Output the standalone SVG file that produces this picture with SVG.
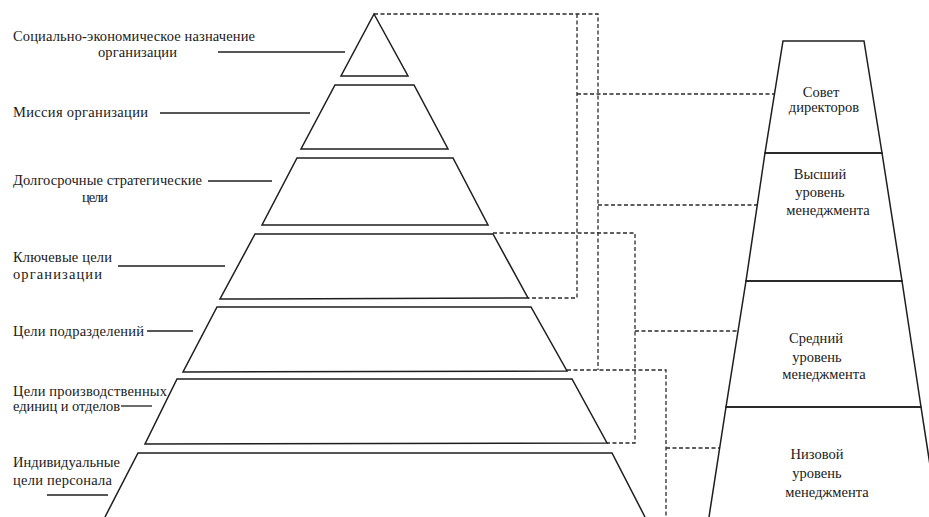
<svg xmlns="http://www.w3.org/2000/svg" width="929" height="517" viewBox="0 0 929 517">
<style>
.bg{fill:#fff}
.shape{fill:none;stroke:#1e1e1e;stroke-width:1.5;stroke-linejoin:miter}
.lead{fill:none;stroke:#1e1e1e;stroke-width:1.3}
.dash{fill:none;stroke:#2a2a2a;stroke-width:1.3;stroke-dasharray:4 2.5}
text{font-family:"Liberation Serif","Times New Roman",serif;font-size:14.5px;fill:#1a1a1a}
.c{text-anchor:middle}
</style>
<rect class="bg" width="929" height="517"/>
<g id="connectors">
<path class="dash" d="M374,14 H598 V370 M567,370 H666 V517"/>
<path class="dash" d="M577,14 V298 H528"/>
<path class="dash" d="M577,94 H775"/>
<path class="dash" d="M598,205 H757"/>
<path class="dash" d="M493,233 H635 V443 H607"/>
<path class="dash" d="M635,331 H738"/>
<path class="dash" d="M666,448 H720"/>
</g>
<g id="level1">
<polygon class="shape" points="374,14 408,76 341,76"/>
<line class="lead" x1="218" y1="52" x2="345" y2="52"/>
<text x="13" y="41" textLength="242">Социально-экономическое назначение</text>
<text x="98" y="57" textLength="79">организации</text>
</g>
<g id="level2">
<polygon class="shape" points="335,85 414,85 448,149 301,149"/>
<line class="lead" x1="160" y1="113" x2="310" y2="113"/>
<text x="13" y="117" textLength="135">Миссия  организации</text>
</g>
<g id="level3">
<polygon class="shape" points="297,158 453,158 488,225 262,225"/>
<line class="lead" x1="208" y1="181" x2="272" y2="181"/>
<text x="13" y="185" textLength="189">Долгосрочные стратегические</text>
<text x="82" y="202" textLength="26">цели</text>
</g>
<g id="level4">
<polygon class="shape" points="255,234 493,234 528,298 220,299"/>
<line class="lead" x1="118" y1="266" x2="225" y2="266"/>
<text x="13" y="262" textLength="99">Ключевые цели</text>
<text x="13" y="279" textLength="89">организации</text>
</g>
<g id="level5">
<polygon class="shape" points="217,307 531,307 567,371 183,372"/>
<line class="lead" x1="147" y1="331" x2="193" y2="331"/>
<text x="13" y="336" textLength="131">Цели подразделений</text>
</g>
<g id="level6">
<polygon class="shape" points="177,379 572,379 607,443 145,444"/>
<line class="lead" x1="121" y1="406" x2="152" y2="406"/>
<text x="13" y="396" textLength="154">Цели производственных</text>
<text x="13" y="411" textLength="107">единиц и отделов</text>
</g>
<g id="level7">
<polyline class="shape" points="105,517 138,453 612,453 645,517"/>
<line class="lead" x1="47" y1="495" x2="108" y2="495"/>
<text x="13" y="467" textLength="107">Индивидуальные</text>
<text x="13" y="485" textLength="99">цели  персонала</text>
</g>
<g id="board">
<polygon class="shape" points="783,41 864,41 882,153 765,153"/>
<text class="c" x="821" y="97">Совет</text>
<text class="c" x="824" y="112">директоров</text>
</g>
<g id="top-management">
<polygon class="shape" points="765,153 882,153 902,281 746,281"/>
<text class="c" x="820" y="179">Высший</text>
<text class="c" x="820" y="197">уровень</text>
<text class="c" x="828" y="215">менеджмента</text>
</g>
<g id="middle-management">
<polygon class="shape" points="746,281 902,281 921,407 726,407"/>
<text class="c" x="816" y="343">Средний</text>
<text class="c" x="817" y="362">уровень</text>
<text class="c" x="824" y="379">менеджмента</text>
</g>
<g id="lower-management">
<polyline class="shape" points="709,517 726,407 921,407 938,517"/>
<text class="c" x="817" y="459">Низовой</text>
<text class="c" x="817" y="478">уровень</text>
<text class="c" x="827" y="497">менеджмента</text>
</g>
</svg>
